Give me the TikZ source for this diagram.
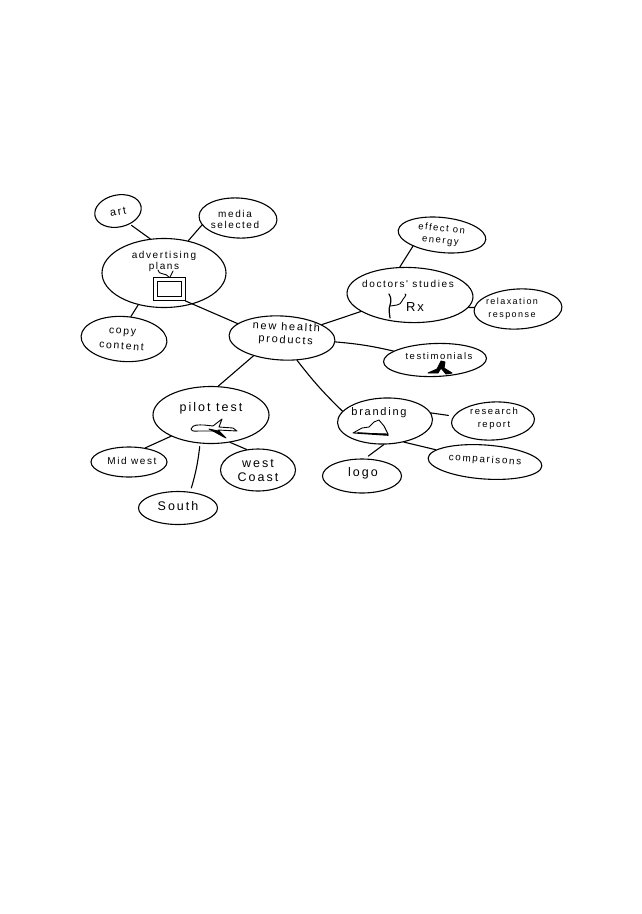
\documentclass[tikz,border=0pt]{standalone}
\usepackage{fontspec}
\usepackage{tikz}
\usetikzlibrary{shapes.geometric}
\newfontfamily\handfont[LetterSpace=16]{Liberation Sans}

\tikzset{
  bubble/.style={ellipse, draw, inner sep=0pt},
  handtext/.style={inner sep=0pt, align=center, font=\handfont\fontsize{10}{11}\selectfont},
  bighand/.style={handtext, font=\handfont\fontsize{12.5}{14}\selectfont},
  glyph/.style={line width=0.9pt, line join=round}
}

\begin{document}
\begin{tikzpicture}[x=1pt, y=-1pt, line width=1.1pt, line cap=round]
    \useasboundingbox (0,0) rectangle (642,914);

      \node[bubble, minimum width=106pt, minimum height=44pt, rotate=-3] (newhealth) at (282,338) {};
      \node[handtext, rotate=-3, font=\handfont\fontsize{11}{13}\selectfont] (newhealthtext) at (286,334) {new health\\products};

    \begin{scope}
      \node[bubble, minimum width=124pt, minimum height=69pt] (adplans) at (164,273) {};
      \node[handtext] (adplanstext) at (164,261) {advertising\\plans};
      \node[bubble, minimum width=47pt, minimum height=32pt, rotate=12] (art) at (118,211) {};
      \node[handtext, rotate=10, font=\handfont\fontsize{11}{12}\selectfont] (arttext) at (118,212) {art};
      \node[bubble, minimum width=78pt, minimum height=40pt, rotate=-3] (media) at (238,218) {};
      \node[handtext] (mediatext) at (235,219) {media\\selected};
      \node[bubble, minimum width=86pt, minimum height=45pt, rotate=-4] (copy) at (124,339) {};
      \node[handtext, rotate=-4, font=\handfont\fontsize{10.5}{15}\selectfont] (copytext) at (122,339) {copy\\content};
      \node[draw, line width=0.9pt, minimum width=32pt, minimum height=23pt, inner sep=0pt] (tv) at (169,289) {};
      \node[draw, line width=0.9pt, minimum width=24pt, minimum height=15pt, inner sep=0pt] (screen) at (tv) {};
      \draw[glyph] (tv.north) to[out=120, in=-90] (158,270);
      \draw[glyph] (tv.north) ++(1,0) -- (173,271);
      \draw (adplans.53) -- (media.194);
      \draw[shorten <=2pt] (art.-60) -- (adplans.112);
      \draw (adplans.231) -- (copy.77);
      \draw (tv.south east) -- (newhealth.165);
    \end{scope}

    \begin{scope}
      \node[bubble, minimum width=126pt, minimum height=55pt, rotate=-2] (doctors) at (410,295) {};
      \node[handtext] (doctorstext) at (408,284) {doctors' studies};
      \node[bubble, minimum width=88pt, minimum height=35pt, rotate=-6] (effect) at (442,235) {};
      \node[handtext, rotate=-6, font=\handfont\fontsize{9.5}{12}\selectfont] (effecttext) at (441,235) {effect on\\energy};
      \node[bubble, minimum width=88pt, minimum height=40pt, rotate=3] (relax) at (518,309) {};
      \node[handtext, font=\handfont\fontsize{9}{13}\selectfont] (relaxtext) at (512,309) {relaxation\\response};
      \node[bubble, minimum width=103pt, minimum height=33pt, rotate=2] (testimonials) at (435,360) {};
      \node[handtext, font=\handfont\fontsize{9.5}{11}\selectfont] (testimonialstext) at (439,356) {testimonials};
      \node[handtext, font=\handfont\fontsize{13}{13}\selectfont] (rx) at (415,307) {Rx};
      \draw[glyph, line width=1.2pt] (389,294) to[out=-60, in=70] (390,305) to[out=-110, in=95] (390,318);
      \draw[glyph] (390,306) to[out=10, in=-110] (402,301) to[out=70, in=-10] (405,294);
      \draw[glyph, fill] (428,373) -- (437,369) -- (441,361) -- (445,362) -- (444,368) -- (452,373) -- (446,374) -- (441,368) -- (438,373) -- cycle;
      \draw (doctors.112) -- (effect.207);
      \draw (doctors.-10) -- (relax.175);
      \draw (newhealth) -- (doctors);
      \draw (newhealth) to[bend left=4] (testimonials);
    \end{scope}

    \begin{scope}
      \node[bubble, minimum width=116pt, minimum height=57pt] (pilot) at (211,415) {};
      \node[bighand] (pilottext) at (211,408) {pilot test};
      \node[bubble, minimum width=76pt, minimum height=30pt] (midwest) at (129,462) {};
      \node[handtext] (midwesttext) at (132,461) {Mid west};
      \node[bubble, minimum width=75pt, minimum height=42pt] (westcoast) at (258,470) {};
      \node[bighand] (westcoasttext) at (258,471) {west\\Coast};
      \node[bubble, minimum width=79pt, minimum height=33pt] (south) at (178,508) {};
      \node[bighand] (southtext) at (178,506) {South};
      \draw[glyph] (191,429) to[out=70, in=180] (204,425) -- (213,426) -- (222,419) -- (219,427) -- (233,428) -- (237,431) -- (218,430) -- (226,438) -- (214,431) -- (199,431) to[out=180, in=-70] (191,429);
      \draw[glyph, fill] (209,429) -- (218,431) -- (224,437) -- (213,431) -- cycle;
      \draw (newhealth.215) -- (pilot.76);
      \draw (pilot.208) -- (midwest.41);
      \draw[shorten <=3pt, shorten >=4pt] (pilot.249) to[bend left=5] (south.53);
      \draw (pilot.-55) -- (westcoast.119);
    \end{scope}

    \begin{scope}
      \node[bubble, minimum width=95pt, minimum height=46pt, rotate=2] (branding) at (385,421) {};
      \node[handtext, font=\handfont\fontsize{11}{12}\selectfont] (brandingtext) at (379,413) {branding};
      \node[bubble, minimum width=83pt, minimum height=38pt, rotate=3] (research) at (493,421) {};
      \node[handtext, font=\handfont\fontsize{9.5}{13}\selectfont] (researchtext) at (494,419) {research\\report};
      \node[bubble, minimum width=114pt, minimum height=34pt, rotate=-4] (comparisons) at (485,462) {};
      \node[handtext, rotate=-4] (comparisonstext) at (485,460) {comparisons};
      \node[bubble, minimum width=79pt, minimum height=34pt] (logo) at (362,476) {};
      \node[bighand] (logotext) at (363,473) {logo};
      \draw[glyph] (353,433) -- (362,428) -- (369,427) -- (374,422) -- (379,420) -- (384,426) -- (388,434) -- cycle;
      \draw[glyph, line width=1.6pt] (358,433) -- (388,435);
      \draw (newhealth.-53) to[bend right=4] (branding.165);
      \draw[shorten >=5pt] (branding.8) -- (research.170);
      \draw (branding.-50) -- (comparisons.170);
      \draw[shorten >=4pt] (branding.-95) -- (logo.80);
    \end{scope}

\end{tikzpicture}
\end{document}
